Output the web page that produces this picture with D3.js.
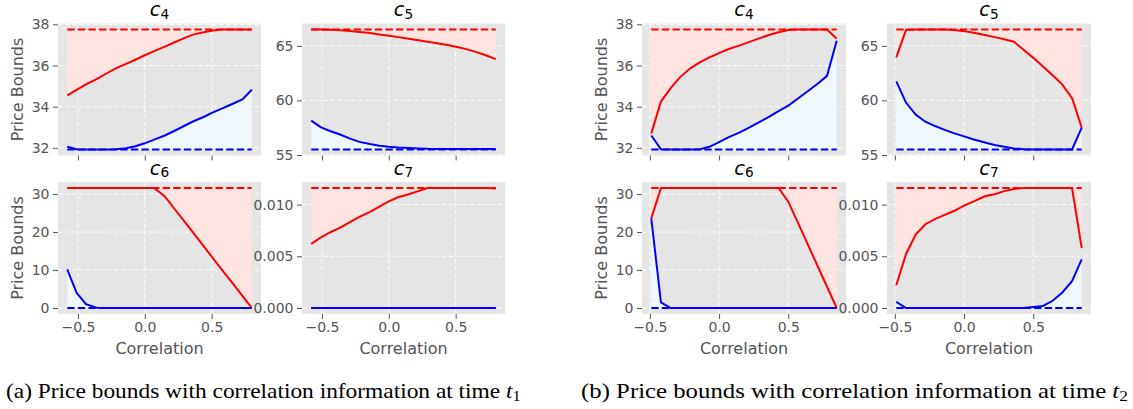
<!DOCTYPE html>
<head>
  <meta charset="utf-8">
  <script src="https://d3js.org/d3.v7.min.js"></script>
  <style>
    body { margin:0; background:#fff; }
    svg { display:block; }
  </style>
</head>
<body>
<script>
var width = 1133, height = 409;

// correlation values on the x axis, figure (a) and figure (b)
var corrT1 = [-0.58, -0.51, -0.44, -0.36, -0.29, -0.22, -0.14, -0.07, 0.0, 0.07, 0.15, 0.22, 0.29, 0.36, 0.44, 0.51, 0.58, 0.65, 0.73, 0.8];
var corrT2 = [-0.49, -0.42, -0.35, -0.28, -0.21, -0.14, -0.07, 0.0, 0.07, 0.15, 0.22, 0.29, 0.36, 0.43, 0.5, 0.57, 0.64, 0.71, 0.78, 0.85];

// bounds without correlation info (dashed lines), per option
var noCorrUpper = {c4: 37.75, c5: 66.5, c6: 31.6, c7: 0.0116};
var noCorrLower = {c4: 31.92, c5: 55.5, c6: 0, c7: 0};

// figure (a), time t1
var c4UpperT1 = [34.55, 34.82, 35.08, 35.34, 35.6, 35.85, 36.08, 36.28, 36.5, 36.7, 36.92, 37.12, 37.32, 37.5, 37.62, 37.7, 37.75, 37.75, 37.75, 37.75];
var c4LowerT1 = [32.05, 31.93, 31.92, 31.92, 31.92, 31.93, 31.98, 32.08, 32.22, 32.4, 32.6, 32.82, 33.05, 33.28, 33.5, 33.72, 33.92, 34.12, 34.35, 34.82];
var c5UpperT1 = [66.5, 66.5, 66.48, 66.43, 66.36, 66.27, 66.17, 66.05, 65.93, 65.8, 65.66, 65.52, 65.38, 65.23, 65.07, 64.9, 64.7, 64.45, 64.12, 63.78];
var c5LowerT1 = [58.15, 57.55, 57.2, 56.85, 56.5, 56.2, 56.0, 55.85, 55.75, 55.68, 55.63, 55.59, 55.56, 55.55, 55.55, 55.55, 55.55, 55.55, 55.55, 55.55];
var c6UpperT1 = [31.6, 31.6, 31.6, 31.6, 31.6, 31.6, 31.6, 31.6, 31.6, 31.6, 29.4, 26.2, 23.1, 19.9, 16.3, 13.1, 9.9, 6.8, 3.2, 0];
var c6LowerT1 = [10.2, 4.0, 1.0, 0.05, 0, 0, 0, 0, 0, 0, 0, 0, 0, 0, 0, 0, 0, 0, 0, 0];
var c7UpperT1 = [0.0062, 0.0068, 0.0073, 0.0078, 0.0083, 0.0088, 0.0093, 0.0098, 0.0103, 0.0107, 0.011, 0.0113, 0.0116, 0.0116, 0.0116, 0.0116, 0.0116, 0.0116, 0.0116, 0.01155];
var c7LowerT1 = [0, 0, 0, 0, 0, 0, 0, 0, 0, 0, 0, 0, 0, 0, 0, 0, 0, 0, 0, 0];

// figure (b), time t2
var c4UpperT2 = [32.7, 34.25, 34.9, 35.45, 35.85, 36.15, 36.4, 36.6, 36.8, 36.98, 37.15, 37.32, 37.48, 37.62, 37.72, 37.75, 37.75, 37.75, 37.75, 37.3];
var c4LowerT2 = [32.6, 31.93, 31.92, 31.92, 31.92, 31.93, 32.05, 32.28, 32.52, 32.75, 33.0, 33.25, 33.5, 33.78, 34.05, 34.4, 34.75, 35.1, 35.5, 37.2];
var c5UpperT2 = [63.95, 66.45, 66.5, 66.5, 66.5, 66.5, 66.45, 66.35, 66.2, 66.0, 65.8, 65.6, 65.38, 64.65, 63.9, 63.1, 62.3, 61.45, 60.2, 57.5];
var c5LowerT2 = [61.75, 59.8, 58.7, 58.05, 57.65, 57.3, 56.98, 56.7, 56.42, 56.15, 55.92, 55.75, 55.6, 55.52, 55.5, 55.5, 55.5, 55.5, 55.5, 57.5];
var c6UpperT2 = [23.6, 31.6, 31.6, 31.6, 31.6, 31.6, 31.6, 31.6, 31.6, 31.6, 31.6, 31.6, 31.6, 31.6, 28.0, 22.4, 16.8, 11.2, 5.6, 0];
var c6LowerT2 = [23.6, 1.5, 0, 0, 0, 0, 0, 0, 0, 0, 0, 0, 0, 0, 0, 0, 0, 0, 0, 0];
var c7UpperT2 = [0.0022, 0.0052, 0.0071, 0.0081, 0.0086, 0.009, 0.0094, 0.0099, 0.0103, 0.0108, 0.011, 0.0113, 0.0115, 0.0116, 0.0116, 0.0116, 0.0116, 0.0116, 0.0116, 0.0058];
var c7LowerT2 = [0.0006, 0, 0, 0, 0, 0, 0, 0, 0, 0, 0, 0, 0, 0, 0.0001, 0.0002, 0.0007, 0.0015, 0.0026, 0.0047];

var yTickValues = {c4: [32, 34, 36, 38], c5: [55, 60, 65], c6: [0, 10, 20, 30], c7: [0, 0.005, 0.010]};
var yTickFormat = {c4: d3.format("d"), c5: d3.format("d"), c6: d3.format("d"), c7: d3.format(".3f")};
var xTickValues = [-0.5, 0.0, 0.5];

var captions = [
  {label: "(a) Price bounds with correlation information at time ", sub: "1", x0: 6, x1: 521},
  {label: "(b) Price bounds with correlation information at time ", sub: "2", x0: 581, x1: 1128}
];

// layout of the panel grid (pixels)
var colsA = [[58, 261], [302, 505]], colsB = [[642, 846], [887, 1091]];
var rows = [[23.5, 155.5], [182, 314]];

var panels = [
  {cols: colsA, col: 0, row: 0, opt: "c4", x: corrT1, up: c4UpperT1, lo: c4LowerT1},
  {cols: colsA, col: 1, row: 0, opt: "c5", x: corrT1, up: c5UpperT1, lo: c5LowerT1},
  {cols: colsA, col: 0, row: 1, opt: "c6", x: corrT1, up: c6UpperT1, lo: c6LowerT1},
  {cols: colsA, col: 1, row: 1, opt: "c7", x: corrT1, up: c7UpperT1, lo: c7LowerT1},
  {cols: colsB, col: 0, row: 0, opt: "c4", x: corrT2, up: c4UpperT2, lo: c4LowerT2},
  {cols: colsB, col: 1, row: 0, opt: "c5", x: corrT2, up: c5UpperT2, lo: c5LowerT2},
  {cols: colsB, col: 0, row: 1, opt: "c6", x: corrT2, up: c6UpperT2, lo: c6LowerT2},
  {cols: colsB, col: 1, row: 1, opt: "c7", x: corrT2, up: c7UpperT2, lo: c7LowerT2}
];

var svg = d3.select("body").append("svg")
  .attr("width", width).attr("height", height);

// matplotlib style 5% margins
function padded(ext) {
  var p = (ext[1] - ext[0]) * 0.05;
  return [ext[0] - p, ext[1] + p];
}

var tickFont = "DejaVu Sans", grey = "#555555";

panels.forEach(function(p) {
  var xr = p.cols[p.col], yr = rows[p.row];
  var maxB = noCorrUpper[p.opt], minB = noCorrLower[p.opt];
  var x = d3.scaleLinear().domain(padded(d3.extent(p.x))).range(xr);
  var yExt = d3.extent(p.up.concat(p.lo, [maxB, minB]));
  var y = d3.scaleLinear().domain(padded(yExt)).range([yr[1], yr[0]]);
  var data = p.x.map(function(c, i) { return {c: c, up: p.up[i], lo: p.lo[i]}; });

  var g = svg.append("g");
  g.append("rect")
    .attr("x", xr[0]).attr("y", yr[0])
    .attr("width", xr[1] - xr[0]).attr("height", yr[1] - yr[0])
    .attr("fill", "#E5E5E5");

  // dashed white grid
  g.selectAll(".gy").data(yTickValues[p.opt]).enter().append("line")
    .attr("x1", xr[0]).attr("x2", xr[1])
    .attr("y1", function(d) { return y(d); }).attr("y2", function(d) { return y(d); })
    .attr("stroke", "#fff").attr("stroke-width", 1).attr("stroke-dasharray", "4.5,2.5");
  g.selectAll(".gx").data(xTickValues).enter().append("line")
    .attr("y1", yr[0]).attr("y2", yr[1])
    .attr("x1", function(d) { return x(d); }).attr("x2", function(d) { return x(d); })
    .attr("stroke", "#fff").attr("stroke-width", 1).attr("stroke-dasharray", "4.5,2.5");

  // shaded gaps to the no-correlation bounds
  g.append("path").datum(data)
    .attr("fill", "mistyrose")
    .attr("d", d3.area().x(function(d) { return x(d.c); })
      .y0(y(maxB)).y1(function(d) { return y(d.up); }));
  g.append("path").datum(data)
    .attr("fill", "aliceblue")
    .attr("d", d3.area().x(function(d) { return x(d.c); })
      .y0(y(minB)).y1(function(d) { return y(d.lo); }));

  var x0 = p.x[0], x1 = p.x[p.x.length - 1];
  g.append("line").attr("x1", x(x0)).attr("x2", x(x1))
    .attr("y1", y(maxB)).attr("y2", y(maxB))
    .attr("stroke", "red").attr("stroke-width", 2).attr("stroke-dasharray", "7.4,3.2");
  g.append("line").attr("x1", x(x0)).attr("x2", x(x1))
    .attr("y1", y(minB)).attr("y2", y(minB))
    .attr("stroke", "blue").attr("stroke-width", 2).attr("stroke-dasharray", "7.4,3.2");

  g.append("path").datum(data)
    .attr("fill", "none").attr("stroke", "red").attr("stroke-width", 2)
    .attr("d", d3.line().x(function(d) { return x(d.c); }).y(function(d) { return y(d.up); }));
  g.append("path").datum(data)
    .attr("fill", "none").attr("stroke", "blue").attr("stroke-width", 2)
    .attr("d", d3.line().x(function(d) { return x(d.c); }).y(function(d) { return y(d.lo); }));

  // axes
  var ay = svg.append("g").attr("transform", "translate(" + xr[0] + ",0)")
    .call(d3.axisLeft(y).tickValues(yTickValues[p.opt]).tickFormat(yTickFormat[p.opt])
      .tickSize(5).tickPadding(3.5));
  var ax = svg.append("g").attr("transform", "translate(0," + yr[1] + ")")
    .call(d3.axisBottom(x).tickValues(xTickValues).tickFormat(p.row == 1 ? d3.format(".1f") : "")
      .tickSize(5).tickPadding(3.5));
  [ay, ax].forEach(function(a) {
    a.select(".domain").remove();
    a.attr("color", grey).attr("font-family", tickFont).attr("font-size", 14);
    a.selectAll(".tick line").attr("stroke-width", 1);
  });

  // title, e.g. c_4
  var t = svg.append("text")
    .attr("x", (xr[0] + xr[1]) / 2).attr("y", yr[0] - 7.5)
    .attr("text-anchor", "middle").attr("font-family", tickFont).attr("font-size", 19.5);
  t.append("tspan").attr("font-style", "italic").text("c");
  t.append("tspan").attr("font-size", 13.7).attr("dy", 2.5).text(p.opt.slice(1));

  if (p.col == 0) {
    svg.append("text")
      .attr("transform", "translate(" + (xr[0] - 35) + "," + ((yr[0] + yr[1]) / 2) + ") rotate(-90)")
      .attr("text-anchor", "middle").attr("font-family", tickFont).attr("font-size", 16)
      .attr("fill", grey).text("Price Bounds");
  }
  if (p.row == 1) {
    svg.append("text")
      .attr("x", (xr[0] + xr[1]) / 2).attr("y", 354)
      .attr("text-anchor", "middle").attr("font-family", tickFont).attr("font-size", 16)
      .attr("fill", grey).text("Correlation");
  }
});

// sub-figure captions, stretched to the width they take in the figure
captions.forEach(function(c) {
  var g = svg.append("g");
  var t = g.append("text")
    .attr("x", 0).attr("y", 0)
    .attr("font-family", "Liberation Serif").attr("font-size", 21).attr("fill", "#000");
  t.append("tspan").text(c.label);
  t.append("tspan").attr("font-style", "italic").text("t");
  t.append("tspan").attr("font-size", 14.7).attr("dy", 3.2).text(c.sub);
  var w = t.node().getComputedTextLength();
  g.attr("transform", "translate(" + c.x0 + ",398) scale(" + ((c.x1 - c.x0) / w) + ",1)");
});
</script>
</body>
